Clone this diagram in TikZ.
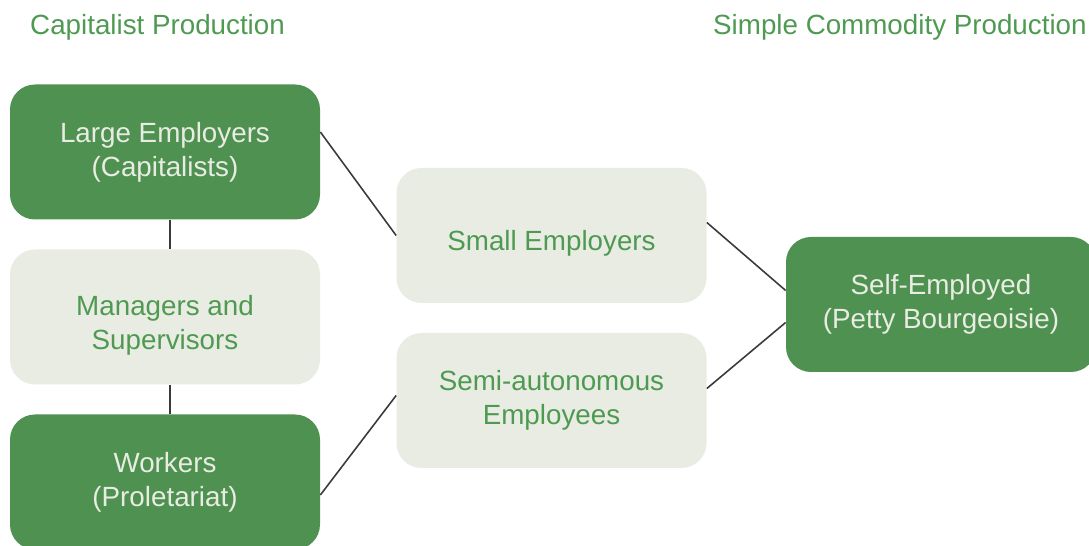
\documentclass[tikz,border=0pt]{standalone}
\usepackage{fontspec}
\setmainfont{Liberation Sans}
\definecolor{darkgreen}{HTML}{4E9150}
\definecolor{palegreen}{HTML}{E9ECE2}
\definecolor{textgreen}{HTML}{4F9A52}
\definecolor{linegray}{HTML}{3A3A3A}
\begin{document}
\begin{tikzpicture}[
  box/.style={rounded corners=0.5cm, minimum width=6.2cm, minimum height=2.7cm,
    align=center, font=\fontsize{15.8}{19.4}\selectfont},
  dark/.style={box, fill=darkgreen, text=palegreen},
  pale/.style={box, fill=palegreen, text=textgreen},
  title/.style={anchor=west, text=textgreen, font=\fontsize{15.8}{19.4}\selectfont},
  link/.style={linegray, line width=0.9pt}
]
  \useasboundingbox (0,0) rectangle (21.78,-10.92);
  % Headings
  \node[title] (cap) at (0.48,-0.54) {Capitalist Production};
  \node[title] (scp) at (14.14,-0.54) {Simple Commodity Production};
  % Classes
  \node[dark] (large) at (3.3,-3.04) {Large Employers\\(Capitalists)};
  \node[pale, text height=1.4cm] (managers) at (3.3,-6.34) {Managers and\\Supervisors};
  \node[dark] (workers) at (3.3,-9.64) {Workers\\(Proletariat)};
  \node[pale, text height=0.72cm] (small) at (11.03,-4.71) {Small Employers};
  \node[pale] (semi) at (11.03,-8.01) {Semi-autonomous\\Employees};
  \node[dark] (self) at (18.82,-6.09) {Self-Employed\\(Petty Bourgeoisie)};
  % Links
  \draw[link] ([xshift=0.1cm]large.south) -- ([xshift=0.1cm]managers.north);
  \draw[link] ([xshift=0.1cm]managers.south) -- ([xshift=0.1cm]workers.north);
  \draw[link] ([yshift=0.4cm]large.east) -- (small.west);
  \draw[link] ([yshift=-0.26cm]workers.east) -- ([yshift=0.1cm]semi.west);
  \draw[link] ([yshift=0.26cm]small.east) -- ([yshift=0.28cm]self.west);
  \draw[link] ([yshift=0.24cm]semi.east) -- ([yshift=-0.36cm]self.west);
\end{tikzpicture}
\end{document}
